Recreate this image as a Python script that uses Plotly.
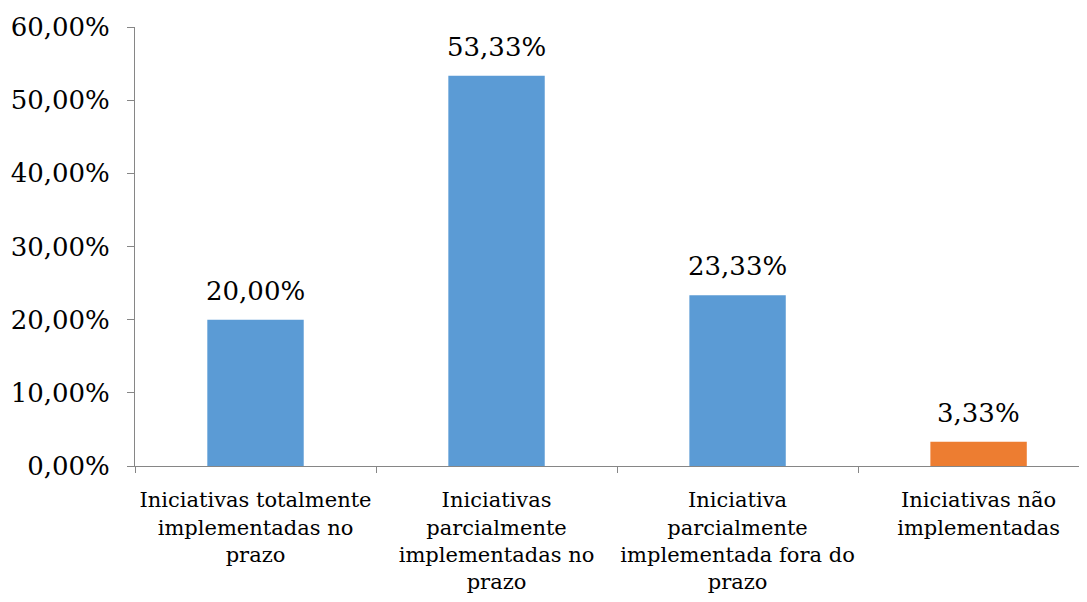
import plotly.graph_objects as go

categories = [
    "Iniciativas totalmente<br>implementadas no<br>prazo",
    "Iniciativas<br>parcialmente<br>implementadas no<br>prazo",
    "Iniciativa<br>parcialmente<br>implementada fora do<br>prazo",
    "Iniciativas não<br>implementadas",
]
values = [0.20, 0.5333, 0.2333, 0.0333]
labels = ["20,00%", "53,33%", "23,33%", "3,33%"]
colors = ["#5B9BD5", "#5B9BD5", "#5B9BD5", "#ED7D31"]
y_ticks = [0, 0.1, 0.2, 0.3, 0.4, 0.5, 0.6]

FONT = "DejaVu Serif"

fig = go.Figure()
fig.add_trace(go.Bar(
    x=categories, y=values, marker=dict(color=colors, line=dict(width=0)),
    width=0.4, hoverinfo="skip",
))

for c, v, t in zip(categories, values, labels):
    fig.add_annotation(x=c, y=v, text=t, showarrow=False, yanchor="bottom",
                       yshift=12, font=dict(family=FONT, size=26, color="#000000"))

fig.update_layout(
    width=1087, height=602,
    margin=dict(l=127, r=0, t=19, b=144),
    paper_bgcolor="white", plot_bgcolor="white",
    separators=",.",
    showlegend=False,
    font=dict(family=FONT, color="#000000"),
)
fig.update_yaxes(
    range=[0, 0.6], tickvals=y_ticks, tickformat=".2%",
    showgrid=False, zeroline=False,
    showline=True, linecolor="#868686", linewidth=1,
    ticks="outside", ticklen=7, tickcolor="#868686",
    tickfont=dict(family=FONT, size=26, color="#000000"),
    ticklabelstandoff=12,
)
fig.update_xaxes(
    type="category", range=[-0.5, 3.483],
    showgrid=False, zeroline=False,
    showline=True, linecolor="#868686", linewidth=1,
    ticks="outside", ticklen=6, tickcolor="#868686", tickson="boundaries",
    tickfont=dict(family=FONT, size=21, color="#000000"),
    tickangle=0, ticklabelstandoff=15,
)

fig.write_html("out.html")
